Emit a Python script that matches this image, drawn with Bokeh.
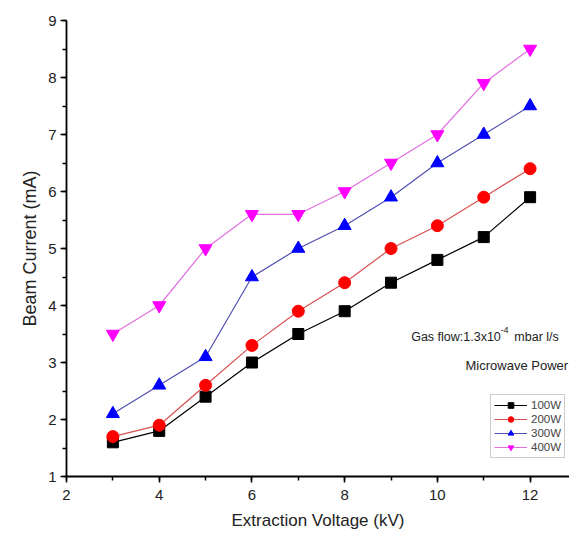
from bokeh.plotting import figure
from bokeh.models import SingleIntervalTicker, Legend, LegendItem, Label, Range1d
from bokeh.embed import file_html
from bokeh.resources import INLINE

voltage = [3, 4, 5, 6, 7, 8, 9, 10, 11, 12]
p100 = [1.6, 1.8, 2.4, 3.0, 3.5, 3.9, 4.4, 4.8, 5.2, 5.9]
p200 = [1.7, 1.9, 2.6, 3.3, 3.9, 4.4, 5.0, 5.4, 5.9, 6.4]
p300 = [2.1, 2.6, 3.1, 4.5, 5.0, 5.4, 5.9, 6.5, 7.0, 7.5]
p400 = [3.5, 4.0, 5.0, 5.6, 5.6, 6.0, 6.5, 7.0, 7.9, 8.5]
series_names = ["100W", "200W", "300W", "400W"]

FONT = "Liberation Sans"

p = figure(width=569, height=539, output_backend="svg", toolbar_location=None,
           x_range=Range1d(2, 12.85), y_range=Range1d(1, 9),
           min_border_left=66, min_border_right=0, min_border_top=20, min_border_bottom=63)
p.outline_line_color = None
p.xgrid.visible = False
p.ygrid.visible = False
p.background_fill_color = "white"

p.xaxis.ticker = SingleIntervalTicker(interval=2, num_minor_ticks=2)
p.yaxis.ticker = SingleIntervalTicker(interval=1, num_minor_ticks=2)
for ax in (p.xaxis, p.yaxis):
    ax.axis_line_width = 1.8
    ax.axis_line_color = "black"
    ax.major_tick_line_color = "black"
    ax.minor_tick_line_color = "black"
    ax.major_tick_line_width = 1.5
    ax.minor_tick_line_width = 1.5
    ax.major_tick_in = 0
    ax.major_tick_out = 6
    ax.minor_tick_in = 0
    ax.minor_tick_out = 4
    ax.major_label_text_font = FONT
    ax.major_label_text_font_size = "15px"
    ax.major_label_text_color = "#222222"
    ax.axis_label_text_font = FONT
    ax.axis_label_text_font_style = "normal"
    ax.axis_label_text_color = "#222222"

p.xaxis.axis_label = "Extraction Voltage (kV)"
p.yaxis.axis_label = "Beam Current (mA)"
p.xaxis.axis_label_text_font_size = "17px"
p.yaxis.axis_label_text_font_size = "18px"
p.xaxis.major_label_standoff = 7
p.yaxis.major_label_standoff = 4
p.xaxis.axis_label_standoff = 8
p.yaxis.axis_label_standoff = 5

specs = [
    (p100, "black", "black", "square", 11),
    (p200, "#d85050", "#ff0000", "circle", 12),
    (p300, "#5050b0", "#0000ff", "triangle", 13),
    (p400, "#e070e0", "#ff00ff", "inverted_triangle", 13),
]
items = []
for name, (vals, lc, mc, marker, sz) in zip(series_names, specs):
    l = p.line(voltage, vals, line_color=lc, line_width=1.2)
    s = p.scatter(voltage, vals, marker=marker, size=sz, fill_color=mc, line_color=mc)
    items.append(LegendItem(label=name, renderers=[l, s]))

legend = Legend(items=items, location=(424, 18),
                label_text_font=FONT, label_text_font_size="11.5px",
                glyph_height=14, glyph_width=33, label_height=13,
                spacing=0, padding=3, margin=0, label_standoff=4,
                border_line_color="#999999", border_line_width=1,
                background_fill_color="white", background_fill_alpha=1)
p.add_layout(legend, "center")

p.add_layout(Label(x=9.435, y=3.44, text="Gas flow:1.3x10", text_font=FONT,
                   text_font_size="12.5px", text_baseline="middle", text_align="left",
                   text_color="#222222"))
p.add_layout(Label(x=11.36, y=3.57, text="-4", text_font=FONT,
                   text_font_size="9px", text_baseline="middle", text_align="left",
                   text_color="#222222"))
p.add_layout(Label(x=11.66, y=3.44, text="mbar l/s", text_font=FONT,
                   text_font_size="12.5px", text_baseline="middle", text_align="left",
                   text_color="#222222"))
p.add_layout(Label(x=12.82, y=2.95, text="Microwave Power", text_font=FONT,
                   text_font_size="13px", text_baseline="middle", text_align="right",
                   text_color="#222222"))

open("out.html", "w").write(file_html(p, INLINE))
